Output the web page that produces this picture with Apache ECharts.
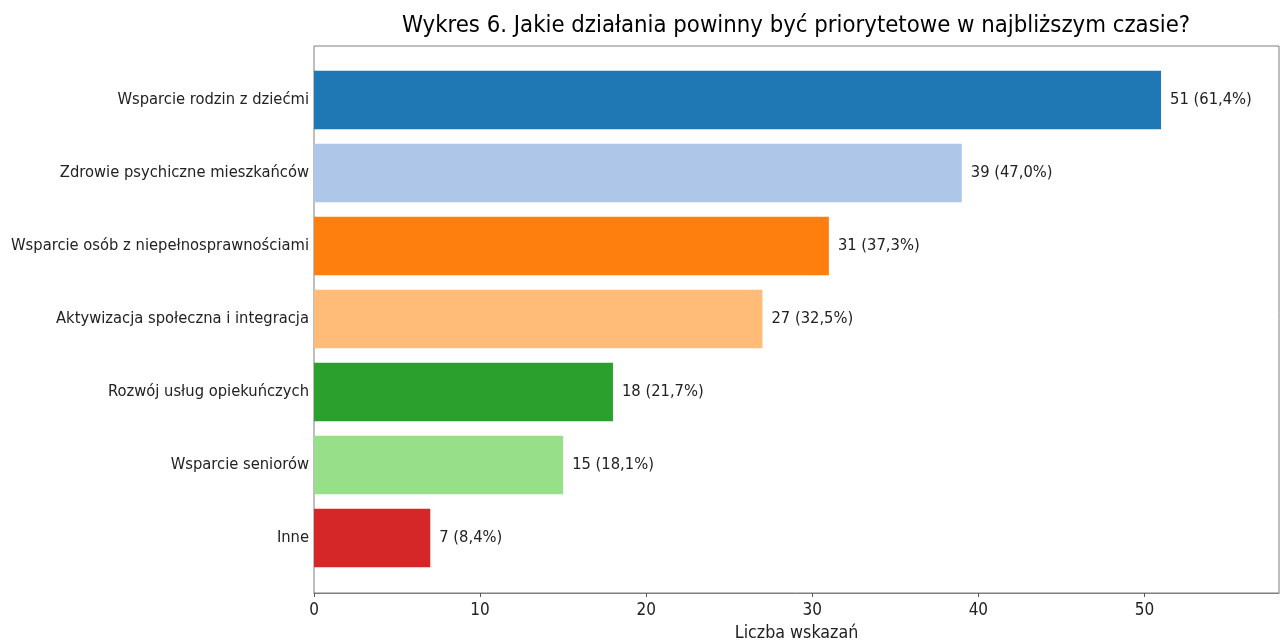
<!DOCTYPE html>
<html><head><meta charset="utf-8">
<script src="https://cdn.jsdelivr.net/npm/echarts@6/dist/echarts.min.js"></script>
<style>html,body{margin:0;padding:0;background:#fff}#c{width:1280px;height:642px}</style>
</head><body><div id="c"></div>
<script>
const categories = ["Wsparcie rodzin z dziećmi","Zdrowie psychiczne mieszkańców","Wsparcie osób z niepełnosprawnościami","Aktywizacja społeczna i integracja","Rozwój usług opiekuńczych","Wsparcie seniorów","Inne"];
const values = [51, 39, 31, 27, 18, 15, 7];
const percents = ["61,4","47,0","37,3","32,5","21,7","18,1","8,4"];
const colors = ["#1f77b4","#aec7e8","#ff7f0e","#ffbb78","#2ca02c","#98df8a","#d62728"];
const xTicks = [0, 10, 20, 30, 40, 50];
const FONT = "DejaVu Sans Condensed";
const XMAX = 58.1;

const chart = echarts.init(document.getElementById('c'), null, {renderer:'canvas'});
chart.setOption({
  animation:false,
  backgroundColor:'#fff',
  textStyle:{fontFamily:FONT},
  title:{text:"Wykres 6. Jakie działania powinny być priorytetowe w najbliższym czasie?",
    left:791, top:9, textAlign:'center',
    textStyle:{fontFamily:FONT, fontSize:23.7, fontWeight:'normal', color:'#000'}},
  grid:[
    {left:314, right:1, top:46, bottom:49, show:true, borderColor:'#7f7f7f', borderWidth:1, backgroundColor:'transparent', outerBoundsMode:'none', containLabel:false},
    {left:314, right:1, top:63.5, bottom:67.5, outerBoundsMode:'none', containLabel:false}
  ],
  xAxis:[
    {gridIndex:0, type:'value', min:0, max:XMAX,
     splitLine:{show:false},
     axisLine:{show:true, lineStyle:{color:'#7f7f7f'}},
     axisTick:{show:true, length:4, customValues:xTicks, lineStyle:{color:'#555'}},
     axisLabel:{fontFamily:FONT, fontSize:17, color:'#222', margin:9, customValues:xTicks},
     name:"Liczba wskazań", nameLocation:'middle', nameGap:31,
     nameTextStyle:{fontFamily:FONT, fontSize:17.7, color:'#222'}},
    {gridIndex:1, type:'value', min:0, max:XMAX, show:false}
  ],
  yAxis:[
    {gridIndex:0, type:'value', min:0, max:1, show:false},
    {gridIndex:1, type:'category', data:categories, inverse:true,
     axisLine:{show:false}, axisTick:{show:false},
     axisLabel:{fontFamily:FONT, fontSize:16.4, color:'#222', margin:5}}
  ],
  series:[{
    type:'bar', xAxisIndex:1, yAxisIndex:1,
    barWidth:'80%',
    data: values.map((v,i)=>({value:v, itemStyle:{color:colors[i]}})),
    label:{show:true, position:'right', distance:9, fontFamily:FONT, fontSize:16.4, color:'#222',
      formatter:p=> values[p.dataIndex] + " (" + percents[p.dataIndex] + "%)"}
  }]
});
</script></body></html>
